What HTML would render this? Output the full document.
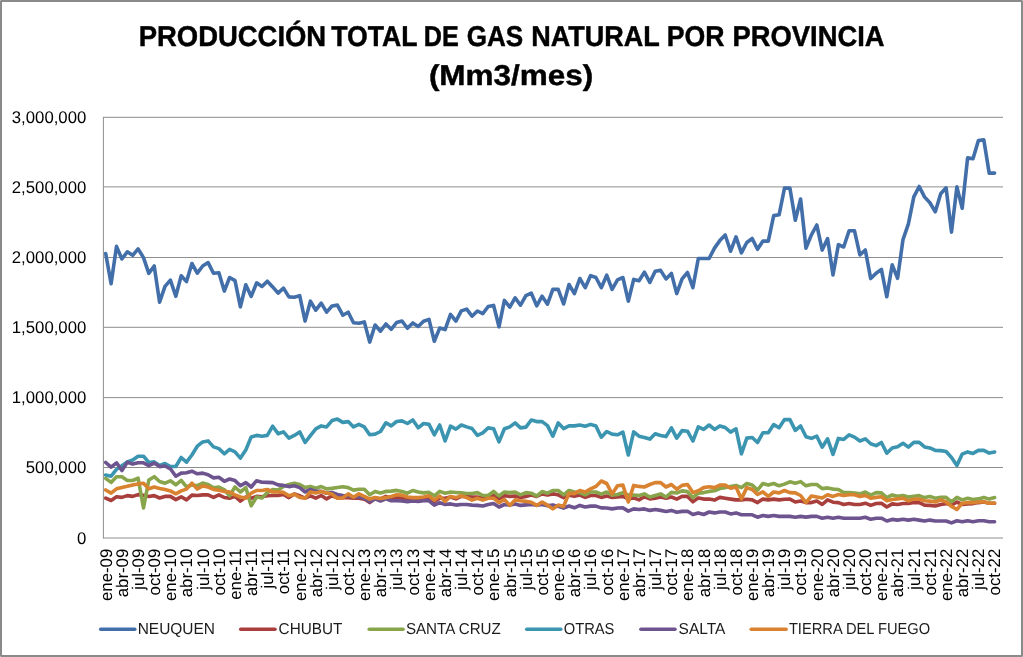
<!DOCTYPE html>
<html lang="es"><head><meta charset="utf-8"><title>Producción total de gas natural por provincia</title>
<style>html,body{margin:0;padding:0;background:#fff}body{width:1023px;height:657px;overflow:hidden}svg{display:block;will-change:transform}text{font-family:"Liberation Sans", Arial, sans-serif;fill:#000;text-rendering:geometricPrecision}.ax{font-size:16.3px;fill:#1c1c1c}.ti{font-size:28.6px;font-weight:bold;stroke:#000;stroke-width:.45px;stroke-linejoin:round}</style></head><body>
<svg width="1023" height="657" viewBox="0 0 1023 657">
<rect x="0" y="0" width="1023" height="657" fill="#fff"/>
<rect x="1" y="1" width="1021" height="655" fill="none" stroke="#8a8a8a" stroke-width="2"/>
<g fill="#b9b9b9"><rect x="0" y="0" width="1" height="1"/><rect x="1022" y="0" width="1" height="1"/><rect x="0" y="656" width="1" height="1"/><rect x="1022" y="656" width="1" height="1"/></g>
<g class="ti">
<text y="45.5"><tspan x="138.7" textLength="187.5" lengthAdjust="spacingAndGlyphs">PRODUCCIÓN</tspan> <tspan x="331.3" textLength="85.8" lengthAdjust="spacingAndGlyphs">TOTAL</tspan> <tspan x="423.7" textLength="35.0" lengthAdjust="spacingAndGlyphs">DE</tspan> <tspan x="466.7" textLength="56.5" lengthAdjust="spacingAndGlyphs">GAS</tspan> <tspan x="531.2" textLength="128.2" lengthAdjust="spacingAndGlyphs">NATURAL</tspan> <tspan x="666.7" textLength="57.8" lengthAdjust="spacingAndGlyphs">POR</tspan> <tspan x="732.5" textLength="152.0" lengthAdjust="spacingAndGlyphs">PROVINCIA</tspan></text>
<text x="428.9" y="84.5" textLength="164.4" lengthAdjust="spacingAndGlyphs">(Mm3/mes)</text>
</g>
<g stroke="#8e8e8e" stroke-width="1" fill="none">
<line x1="103.4" y1="117.30" x2="1003.0" y2="117.30"/>
<line x1="103.4" y1="186.90" x2="1003.0" y2="186.90"/>
<line x1="103.4" y1="257.50" x2="1003.0" y2="257.50"/>
<line x1="103.4" y1="327.30" x2="1003.0" y2="327.30"/>
<line x1="103.4" y1="397.60" x2="1003.0" y2="397.60"/>
<line x1="103.4" y1="467.50" x2="1003.0" y2="467.50"/>
<line x1="103.4" y1="538.00" x2="1003.0" y2="538.00"/>
<line x1="103.4" y1="116.80" x2="103.4" y2="538.50"/>
</g>
<g class="ax" text-anchor="end">
<text transform="translate(86.3,123.0) scale(0.985,1)" font-size="17">3,000,000</text>
<text transform="translate(86.3,192.7) scale(0.985,1)" font-size="17">2,500,000</text>
<text transform="translate(86.3,263.0) scale(0.985,1)" font-size="17">2,000,000</text>
<text transform="translate(86.3,333.0) scale(0.985,1)" font-size="17">1,500,000</text>
<text transform="translate(86.3,403.4) scale(0.985,1)" font-size="17">1,000,000</text>
<text transform="translate(86.3,473.3) scale(0.985,1)" font-size="17">500,000</text>
<text transform="translate(86.3,543.8) scale(0.985,1)" font-size="17">0</text>
</g>
<g class="ax" text-anchor="end">
<text transform="translate(111.5,548.7) rotate(-90) scale(0.995,1)" font-size="16.9">ene-09</text>
<text transform="translate(127.7,548.7) rotate(-90) scale(0.995,1)" font-size="16.9">abr-09</text>
<text transform="translate(143.9,548.7) rotate(-90) scale(0.995,1)" font-size="16.9">jul-09</text>
<text transform="translate(160.0,548.7) rotate(-90) scale(0.995,1)" font-size="16.9">oct-09</text>
<text transform="translate(176.2,548.7) rotate(-90) scale(0.995,1)" font-size="16.9">ene-10</text>
<text transform="translate(192.3,548.7) rotate(-90) scale(0.995,1)" font-size="16.9">abr-10</text>
<text transform="translate(208.5,548.7) rotate(-90) scale(0.995,1)" font-size="16.9">jul-10</text>
<text transform="translate(224.7,548.7) rotate(-90) scale(0.995,1)" font-size="16.9">oct-10</text>
<text transform="translate(240.8,548.7) rotate(-90) scale(0.995,1)" font-size="16.9">ene-11</text>
<text transform="translate(257.0,548.7) rotate(-90) scale(0.995,1)" font-size="16.9">abr-11</text>
<text transform="translate(273.1,548.7) rotate(-90) scale(0.995,1)" font-size="16.9">jul-11</text>
<text transform="translate(289.3,548.7) rotate(-90) scale(0.995,1)" font-size="16.9">oct-11</text>
<text transform="translate(305.5,548.7) rotate(-90) scale(0.995,1)" font-size="16.9">ene-12</text>
<text transform="translate(321.6,548.7) rotate(-90) scale(0.995,1)" font-size="16.9">abr-12</text>
<text transform="translate(337.8,548.7) rotate(-90) scale(0.995,1)" font-size="16.9">jul-12</text>
<text transform="translate(354.0,548.7) rotate(-90) scale(0.995,1)" font-size="16.9">oct-12</text>
<text transform="translate(370.1,548.7) rotate(-90) scale(0.995,1)" font-size="16.9">ene-13</text>
<text transform="translate(386.3,548.7) rotate(-90) scale(0.995,1)" font-size="16.9">abr-13</text>
<text transform="translate(402.4,548.7) rotate(-90) scale(0.995,1)" font-size="16.9">jul-13</text>
<text transform="translate(418.6,548.7) rotate(-90) scale(0.995,1)" font-size="16.9">oct-13</text>
<text transform="translate(434.8,548.7) rotate(-90) scale(0.995,1)" font-size="16.9">ene-14</text>
<text transform="translate(450.9,548.7) rotate(-90) scale(0.995,1)" font-size="16.9">abr-14</text>
<text transform="translate(467.1,548.7) rotate(-90) scale(0.995,1)" font-size="16.9">jul-14</text>
<text transform="translate(483.2,548.7) rotate(-90) scale(0.995,1)" font-size="16.9">oct-14</text>
<text transform="translate(499.4,548.7) rotate(-90) scale(0.995,1)" font-size="16.9">ene-15</text>
<text transform="translate(515.6,548.7) rotate(-90) scale(0.995,1)" font-size="16.9">abr-15</text>
<text transform="translate(531.7,548.7) rotate(-90) scale(0.995,1)" font-size="16.9">jul-15</text>
<text transform="translate(547.9,548.7) rotate(-90) scale(0.995,1)" font-size="16.9">oct-15</text>
<text transform="translate(564.0,548.7) rotate(-90) scale(0.995,1)" font-size="16.9">ene-16</text>
<text transform="translate(580.2,548.7) rotate(-90) scale(0.995,1)" font-size="16.9">abr-16</text>
<text transform="translate(596.4,548.7) rotate(-90) scale(0.995,1)" font-size="16.9">jul-16</text>
<text transform="translate(612.5,548.7) rotate(-90) scale(0.995,1)" font-size="16.9">oct-16</text>
<text transform="translate(628.7,548.7) rotate(-90) scale(0.995,1)" font-size="16.9">ene-17</text>
<text transform="translate(644.8,548.7) rotate(-90) scale(0.995,1)" font-size="16.9">abr-17</text>
<text transform="translate(661.0,548.7) rotate(-90) scale(0.995,1)" font-size="16.9">jul-17</text>
<text transform="translate(677.2,548.7) rotate(-90) scale(0.995,1)" font-size="16.9">oct-17</text>
<text transform="translate(693.3,548.7) rotate(-90) scale(0.995,1)" font-size="16.9">ene-18</text>
<text transform="translate(709.5,548.7) rotate(-90) scale(0.995,1)" font-size="16.9">abr-18</text>
<text transform="translate(725.6,548.7) rotate(-90) scale(0.995,1)" font-size="16.9">jul-18</text>
<text transform="translate(741.8,548.7) rotate(-90) scale(0.995,1)" font-size="16.9">oct-18</text>
<text transform="translate(758.0,548.7) rotate(-90) scale(0.995,1)" font-size="16.9">ene-19</text>
<text transform="translate(774.1,548.7) rotate(-90) scale(0.995,1)" font-size="16.9">abr-19</text>
<text transform="translate(790.3,548.7) rotate(-90) scale(0.995,1)" font-size="16.9">jul-19</text>
<text transform="translate(806.4,548.7) rotate(-90) scale(0.995,1)" font-size="16.9">oct-19</text>
<text transform="translate(822.6,548.7) rotate(-90) scale(0.995,1)" font-size="16.9">ene-20</text>
<text transform="translate(838.8,548.7) rotate(-90) scale(0.995,1)" font-size="16.9">abr-20</text>
<text transform="translate(854.9,548.7) rotate(-90) scale(0.995,1)" font-size="16.9">jul-20</text>
<text transform="translate(871.1,548.7) rotate(-90) scale(0.995,1)" font-size="16.9">oct-20</text>
<text transform="translate(887.2,548.7) rotate(-90) scale(0.995,1)" font-size="16.9">ene-21</text>
<text transform="translate(903.4,548.7) rotate(-90) scale(0.995,1)" font-size="16.9">abr-21</text>
<text transform="translate(919.6,548.7) rotate(-90) scale(0.995,1)" font-size="16.9">jul-21</text>
<text transform="translate(935.7,548.7) rotate(-90) scale(0.995,1)" font-size="16.9">oct-21</text>
<text transform="translate(951.9,548.7) rotate(-90) scale(0.995,1)" font-size="16.9">ene-22</text>
<text transform="translate(968.0,548.7) rotate(-90) scale(0.995,1)" font-size="16.9">abr-22</text>
<text transform="translate(984.2,548.7) rotate(-90) scale(0.995,1)" font-size="16.9">jul-22</text>
<text transform="translate(1000.4,548.7) rotate(-90) scale(0.995,1)" font-size="16.9">oct-22</text>
</g>
<polyline points="105.7,253.5 111.1,283.8 116.5,246.4 121.9,259.0 127.3,251.8 132.7,255.3 138.1,248.9 143.5,257.6 148.8,273.4 154.2,266.0 159.6,302.2 165.0,286.4 170.4,280.1 175.8,296.3 181.2,275.8 186.5,281.6 191.9,263.5 197.3,273.1 202.7,266.0 208.1,262.6 213.5,273.2 218.9,272.7 224.3,291.1 229.6,277.5 235.0,280.6 240.4,306.8 245.8,284.8 251.2,296.4 256.6,282.8 262.0,286.5 267.3,281.2 272.7,286.9 278.1,293.1 283.5,288.1 288.9,296.9 294.3,297.3 299.7,295.6 305.1,321.1 310.4,301.2 315.8,310.2 321.2,303.1 326.6,312.1 332.0,306.0 337.4,305.1 342.8,315.2 348.2,312.2 353.5,322.8 358.9,323.3 364.3,321.9 369.7,342.1 375.1,325.0 380.5,331.2 385.9,324.0 391.2,329.3 396.6,322.5 402.0,321.0 407.4,328.3 412.8,322.9 418.2,326.5 423.6,321.2 429.0,319.4 434.3,341.2 439.7,328.1 445.1,329.6 450.5,314.4 455.9,321.2 461.3,310.9 466.7,309.1 472.0,316.2 477.4,311.0 482.8,313.6 488.2,306.5 493.6,305.4 499.0,326.8 504.4,300.4 509.8,307.1 515.1,297.8 520.5,305.2 525.9,295.6 531.3,293.1 536.7,305.8 542.1,296.2 547.5,304.2 552.8,289.4 558.2,289.4 563.6,304.0 569.0,284.5 574.4,293.7 579.8,278.5 585.2,287.7 590.6,275.6 595.9,277.5 601.3,287.7 606.7,275.2 612.1,289.3 617.5,279.8 622.9,277.5 628.3,301.2 633.7,279.4 639.0,280.8 644.4,272.2 649.8,282.4 655.2,271.2 660.6,270.4 666.0,278.9 671.4,273.4 676.7,293.6 682.1,278.8 687.5,272.5 692.9,287.7 698.3,258.5 703.7,258.5 709.1,258.5 714.5,248.1 719.8,240.6 725.2,235.0 730.6,251.2 736.0,236.9 741.4,252.9 746.8,242.5 752.2,238.5 757.5,249.3 762.9,241.1 768.3,241.1 773.7,215.6 779.1,214.8 784.5,188.1 789.9,188.1 795.3,220.2 800.6,199.0 806.0,248.2 811.4,234.8 816.8,225.0 822.2,250.1 827.6,238.6 833.0,274.9 838.4,244.6 843.7,247.0 849.1,230.8 854.5,230.8 859.9,254.9 865.3,250.0 870.7,278.6 876.1,273.2 881.4,269.4 886.8,296.8 892.2,264.8 897.6,278.3 903.0,239.6 908.4,223.8 913.8,196.9 919.2,186.5 924.5,196.9 929.9,202.8 935.3,211.8 940.7,193.8 946.1,187.8 951.5,232.1 956.9,186.9 962.2,208.3 967.6,157.9 973.0,158.7 978.4,140.6 983.8,139.8 989.2,173.1 994.6,173.1" fill="none" stroke="#426fa9" stroke-width="3.6" stroke-linejoin="round" stroke-linecap="round"/>
<polyline points="105.7,498.2 111.1,500.5 116.5,496.8 121.9,497.4 127.3,495.6 132.7,496.4 138.1,494.6 143.5,495.3 148.8,496.5 154.2,495.6 159.6,498.0 165.0,496.4 170.4,496.4 175.8,499.6 181.2,496.8 186.5,499.9 191.9,495.1 197.3,495.5 202.7,494.9 208.1,494.9 213.5,497.4 218.9,494.8 224.3,497.5 229.6,498.2 235.0,496.4 240.4,501.1 245.8,497.0 251.2,498.2 256.6,496.4 262.0,496.8 267.3,495.8 272.7,495.5 278.1,495.5 283.5,494.5 288.9,497.6 294.3,493.9 299.7,495.8 305.1,498.2 310.4,495.8 315.8,498.2 321.2,495.5 326.6,498.9 332.0,495.8 337.4,497.9 342.8,497.6 348.2,497.6 353.5,498.2 358.9,498.2 364.3,499.1 369.7,502.6 375.1,498.2 380.5,498.9 385.9,496.4 391.2,498.2 396.6,497.6 402.0,498.2 407.4,498.5 412.8,498.2 418.2,498.5 423.6,498.2 429.0,497.6 434.3,501.4 439.7,498.2 445.1,498.2 450.5,497.0 455.9,498.9 461.3,496.4 466.7,496.4 472.0,497.0 477.4,497.0 482.8,498.2 488.2,497.6 493.6,495.5 499.0,498.9 504.4,495.8 509.8,496.4 515.1,496.1 520.5,497.6 525.9,496.4 531.3,495.1 536.7,496.4 542.1,493.9 547.5,495.1 552.8,493.9 558.2,494.8 563.6,497.6 569.0,495.3 574.4,496.2 579.8,495.1 585.2,497.4 590.6,495.5 595.9,495.5 601.3,497.4 606.7,496.1 612.1,497.4 617.5,497.0 622.9,496.4 628.3,498.9 633.7,497.9 639.0,499.9 644.4,496.8 649.8,498.9 655.2,498.2 660.6,497.0 666.0,498.2 671.4,497.0 676.7,499.1 682.1,496.4 687.5,496.4 692.9,501.8 698.3,497.9 703.7,499.1 709.1,499.1 714.5,500.1 719.8,497.4 725.2,498.2 730.6,499.1 736.0,499.9 741.4,499.9 746.8,499.2 752.2,499.9 757.5,502.6 762.9,499.1 768.3,499.9 773.7,499.1 779.1,499.9 784.5,499.2 789.9,499.1 795.3,502.0 800.6,501.1 806.0,502.6 811.4,502.6 816.8,501.1 822.2,504.5 827.6,499.9 833.0,502.2 838.4,502.6 843.7,504.5 849.1,503.5 854.5,504.5 859.9,504.5 865.3,503.2 870.7,505.4 876.1,503.5 881.4,503.2 886.8,507.0 892.2,503.9 897.6,504.5 903.0,503.5 908.4,503.4 913.8,502.5 919.2,502.6 924.5,505.1 929.9,505.4 935.3,506.0 940.7,504.5 946.1,503.6 951.5,505.1 956.9,502.0 962.2,504.5 967.6,503.9 973.0,503.6 978.4,502.6 983.8,502.0 989.2,503.2 994.6,503.2" fill="none" stroke="#a83f3d" stroke-width="3.6" stroke-linejoin="round" stroke-linecap="round"/>
<polyline points="105.7,478.4 111.1,482.4 116.5,476.7 121.9,476.7 127.3,480.4 132.7,480.5 138.1,478.2 143.5,508.0 148.8,480.0 154.2,476.7 159.6,481.5 165.0,483.2 170.4,480.8 175.8,484.8 181.2,480.3 186.5,486.8 191.9,485.0 197.3,485.7 202.7,483.0 208.1,484.4 213.5,487.8 218.9,487.0 224.3,489.8 229.6,495.8 235.0,487.0 240.4,492.0 245.8,487.6 251.2,505.8 256.6,497.0 262.0,498.0 267.3,492.6 272.7,489.5 278.1,490.1 283.5,486.4 288.9,484.5 294.3,483.2 299.7,484.5 305.1,487.6 310.4,486.4 315.8,488.2 321.2,486.6 326.6,488.9 332.0,488.4 337.4,487.5 342.8,486.8 348.2,487.6 353.5,490.1 358.9,489.2 364.3,489.2 369.7,494.8 375.1,491.4 380.5,492.9 385.9,491.4 391.2,491.1 396.6,490.4 402.0,491.4 407.4,493.2 412.8,490.5 418.2,492.0 423.6,492.9 429.0,492.4 434.3,495.8 439.7,491.4 445.1,493.2 450.5,492.0 455.9,492.5 461.3,492.9 466.7,493.5 472.0,493.5 477.4,492.6 482.8,495.5 488.2,495.5 493.6,491.4 499.0,496.0 504.4,492.0 509.8,492.6 515.1,492.0 520.5,494.8 525.9,492.6 531.3,493.2 536.7,496.0 542.1,491.6 547.5,493.2 552.8,490.5 558.2,490.5 563.6,494.8 569.0,490.5 574.4,492.0 579.8,492.6 585.2,494.8 590.6,492.0 595.9,492.0 601.3,494.2 606.7,492.0 612.1,495.1 617.5,494.5 622.9,492.6 628.3,495.1 633.7,495.1 639.0,495.5 644.4,493.9 649.8,497.0 655.2,495.5 660.6,493.9 666.0,497.0 671.4,492.4 676.7,493.0 682.1,490.9 687.5,491.6 692.9,497.6 698.3,493.2 703.7,492.6 709.1,491.4 714.5,490.8 719.8,488.5 725.2,487.6 730.6,486.4 736.0,485.4 741.4,487.6 746.8,483.5 752.2,485.1 757.5,490.1 762.9,483.5 768.3,485.1 773.7,483.5 779.1,485.8 784.5,484.1 789.9,481.8 795.3,483.2 800.6,481.6 806.0,485.8 811.4,484.5 816.8,484.5 822.2,488.6 827.6,487.9 833.0,489.1 838.4,489.5 843.7,492.6 849.1,492.6 854.5,493.0 859.9,493.9 865.3,492.0 870.7,495.1 876.1,492.6 881.4,492.9 886.8,497.6 892.2,494.9 897.6,496.2 903.0,495.5 908.4,497.1 913.8,496.2 919.2,495.6 924.5,497.6 929.9,496.4 935.3,498.2 940.7,497.4 946.1,497.4 951.5,501.8 956.9,497.4 962.2,499.9 967.6,498.2 973.0,499.5 978.4,498.9 983.8,497.4 989.2,499.1 994.6,497.6" fill="none" stroke="#88a54b" stroke-width="3.6" stroke-linejoin="round" stroke-linecap="round"/>
<polyline points="105.7,475.0 111.1,476.2 116.5,469.4 121.9,465.6 127.3,461.9 132.7,460.0 138.1,456.2 143.5,456.2 148.8,462.5 154.2,461.9 159.6,465.4 165.0,463.5 170.4,466.5 175.8,466.5 181.2,457.5 186.5,462.2 191.9,455.0 197.3,446.2 202.7,441.9 208.1,440.9 213.5,446.9 218.9,448.6 224.3,453.8 229.6,449.4 235.0,451.9 240.4,458.1 245.8,450.0 251.2,436.9 256.6,435.4 262.0,436.2 267.3,435.4 272.7,426.2 278.1,433.8 283.5,431.9 288.9,438.1 294.3,435.4 299.7,431.9 305.1,442.5 310.4,435.6 315.8,428.8 321.2,425.9 326.6,426.9 332.0,420.6 337.4,419.1 342.8,422.4 348.2,421.6 353.5,426.9 358.9,424.4 364.3,426.9 369.7,434.8 375.1,434.1 380.5,431.5 385.9,422.8 391.2,425.9 396.6,421.5 402.0,420.9 407.4,423.5 412.8,420.0 418.2,427.8 423.6,423.5 429.0,424.4 434.3,434.8 439.7,425.0 445.1,441.0 450.5,426.1 455.9,429.1 461.3,425.0 466.7,426.9 472.0,428.5 477.4,435.4 482.8,432.9 488.2,427.9 493.6,428.8 499.0,441.9 504.4,428.8 509.8,426.9 515.1,422.9 520.5,427.9 525.9,427.1 531.3,420.0 536.7,421.6 542.1,421.6 547.5,425.6 552.8,436.2 558.2,422.9 563.6,428.6 569.0,425.9 574.4,425.9 579.8,425.0 585.2,426.2 590.6,424.4 595.9,426.0 601.3,437.2 606.7,431.5 612.1,434.1 617.5,434.8 622.9,432.1 628.3,455.0 633.7,431.9 639.0,436.2 644.4,437.5 649.8,439.1 655.2,433.8 660.6,435.4 666.0,436.6 671.4,427.9 676.7,438.1 682.1,430.6 687.5,431.2 692.9,441.0 698.3,426.9 703.7,429.4 709.1,425.0 714.5,429.4 719.8,425.9 725.2,427.5 730.6,432.1 736.0,428.8 741.4,453.8 746.8,438.1 752.2,437.5 757.5,442.5 762.9,432.8 768.3,432.8 773.7,424.6 779.1,427.8 784.5,419.6 789.9,419.6 795.3,430.4 800.6,426.0 806.0,436.7 811.4,438.4 816.8,436.2 822.2,447.2 827.6,438.8 833.0,454.4 838.4,438.4 843.7,439.4 849.1,434.8 854.5,437.1 859.9,441.0 865.3,438.8 870.7,443.8 876.1,445.6 881.4,442.5 886.8,453.1 892.2,448.0 897.6,446.8 903.0,443.3 908.4,447.1 913.8,442.4 919.2,442.4 924.5,446.9 929.9,447.9 935.3,450.4 940.7,450.6 946.1,451.5 951.5,457.5 956.9,465.4 962.2,454.1 967.6,451.9 973.0,453.4 978.4,450.4 983.8,450.4 989.2,453.1 994.6,452.1" fill="none" stroke="#3b95b0" stroke-width="3.6" stroke-linejoin="round" stroke-linecap="round"/>
<polyline points="105.7,462.5 111.1,467.2 116.5,462.8 121.9,470.6 127.3,462.2 132.7,464.1 138.1,462.8 143.5,462.8 148.8,465.6 154.2,463.1 159.6,466.6 165.0,466.0 170.4,468.8 175.8,476.2 181.2,473.1 186.5,472.8 191.9,471.2 197.3,473.8 202.7,473.1 208.1,474.8 213.5,477.9 218.9,477.3 224.3,481.3 229.6,479.0 235.0,480.6 240.4,485.7 245.8,482.6 251.2,487.0 256.6,480.7 262.0,482.2 267.3,482.4 272.7,482.6 278.1,484.9 283.5,485.4 288.9,486.6 294.3,485.8 299.7,487.6 305.1,492.0 310.4,489.5 315.8,491.4 321.2,491.4 326.6,493.2 332.0,492.5 337.4,494.4 342.8,495.5 348.2,495.8 353.5,497.0 358.9,497.0 364.3,498.2 369.7,501.8 375.1,498.9 380.5,501.0 385.9,498.9 391.2,500.8 396.6,500.8 402.0,501.0 407.4,501.6 412.8,501.0 418.2,501.4 423.6,500.8 429.0,500.8 434.3,505.1 439.7,502.6 445.1,504.5 450.5,503.9 455.9,505.1 461.3,504.5 466.7,504.5 472.0,505.1 477.4,505.4 482.8,506.0 488.2,504.5 493.6,503.5 499.0,507.0 504.4,504.5 509.8,505.1 515.1,503.9 520.5,505.4 525.9,504.9 531.3,504.5 536.7,505.1 542.1,504.5 547.5,505.8 552.8,504.9 558.2,506.4 563.6,508.1 569.0,506.0 574.4,507.8 579.8,505.4 585.2,507.0 590.6,506.1 595.9,506.1 601.3,507.9 606.7,508.0 612.1,508.9 617.5,508.0 622.9,507.9 628.3,511.1 633.7,508.9 639.0,509.5 644.4,508.9 649.8,510.4 655.2,509.5 660.6,510.4 666.0,511.4 671.4,510.4 676.7,512.2 682.1,511.4 687.5,511.2 692.9,514.5 698.3,512.9 703.7,514.5 709.1,512.0 714.5,512.9 719.8,512.0 725.2,512.0 730.6,513.9 736.0,512.9 741.4,514.8 746.8,514.8 752.2,514.8 757.5,517.2 762.9,515.5 768.3,516.4 773.7,515.5 779.1,516.4 784.5,516.4 789.9,516.4 795.3,517.2 800.6,516.4 806.0,517.1 811.4,516.4 816.8,516.4 822.2,518.2 827.6,517.2 833.0,518.2 838.4,517.2 843.7,518.2 849.1,518.2 854.5,518.2 859.9,518.2 865.3,517.2 870.7,519.2 876.1,518.2 881.4,518.2 886.8,521.0 892.2,519.4 897.6,520.1 903.0,519.2 908.4,520.1 913.8,519.2 919.2,520.1 924.5,521.1 929.9,520.1 935.3,521.0 940.7,521.0 946.1,521.0 951.5,522.9 956.9,520.8 962.2,521.8 967.6,520.8 973.0,521.8 978.4,520.8 983.8,520.8 989.2,521.8 994.6,521.8" fill="none" stroke="#6e548f" stroke-width="3.6" stroke-linejoin="round" stroke-linecap="round"/>
<polyline points="105.7,490.0 111.1,493.1 116.5,488.8 121.9,487.5 127.3,486.3 132.7,484.9 138.1,483.9 143.5,483.3 148.8,488.8 154.2,487.0 159.6,488.5 165.0,489.6 170.4,490.9 175.8,493.8 181.2,490.9 186.5,489.1 191.9,483.1 197.3,489.0 202.7,485.9 208.1,487.1 213.5,489.4 218.9,490.2 224.3,491.4 229.6,492.0 235.0,494.8 240.4,497.0 245.8,498.2 251.2,493.2 256.6,490.5 262.0,490.5 267.3,489.5 272.7,492.0 278.1,492.0 283.5,492.4 288.9,495.8 294.3,494.2 299.7,497.4 305.1,498.2 310.4,492.0 315.8,493.0 321.2,491.6 326.6,492.9 332.0,494.1 337.4,498.2 342.8,497.9 348.2,493.9 353.5,497.2 358.9,493.9 364.3,496.4 369.7,499.1 375.1,497.6 380.5,498.5 385.9,497.6 391.2,496.4 396.6,494.8 402.0,495.1 407.4,497.0 412.8,497.6 418.2,497.6 423.6,497.0 429.0,495.8 434.3,500.1 439.7,496.0 445.1,501.4 450.5,496.4 455.9,497.6 461.3,495.8 466.7,497.6 472.0,500.1 477.4,498.2 482.8,500.1 488.2,498.2 493.6,498.2 499.0,502.6 504.4,499.5 509.8,505.4 515.1,499.9 520.5,500.8 525.9,501.4 531.3,502.2 536.7,505.4 542.1,502.0 547.5,505.1 552.8,508.9 558.2,505.1 563.6,506.4 569.0,493.2 574.4,493.6 579.8,490.5 585.2,492.0 590.6,488.9 595.9,486.4 601.3,481.0 606.7,483.5 612.1,493.9 617.5,485.8 622.9,485.1 628.3,502.0 633.7,485.4 639.0,486.4 644.4,487.0 649.8,484.5 655.2,482.6 660.6,482.6 666.0,487.0 671.4,484.5 676.7,489.2 682.1,485.4 687.5,484.5 692.9,492.6 698.3,490.8 703.7,487.6 709.1,486.8 714.5,487.6 719.8,485.1 725.2,485.1 730.6,488.2 736.0,487.0 741.4,498.9 746.8,487.6 752.2,489.5 757.5,494.5 762.9,491.8 768.3,496.4 773.7,492.0 779.1,492.9 784.5,490.5 789.9,492.6 795.3,492.9 800.6,495.5 806.0,502.6 811.4,496.0 816.8,497.0 822.2,498.0 827.6,494.8 833.0,496.4 838.4,494.5 843.7,495.5 849.1,494.8 854.5,494.8 859.9,496.4 865.3,495.5 870.7,498.2 876.1,497.4 881.4,496.8 886.8,500.8 892.2,499.5 897.6,498.9 903.0,498.2 908.4,500.8 913.8,499.1 919.2,499.1 924.5,500.8 929.9,501.1 935.3,502.0 940.7,499.9 946.1,502.0 951.5,506.4 956.9,509.5 962.2,503.2 967.6,502.6 973.0,502.6 978.4,502.0 983.8,501.8 989.2,503.2 994.6,503.0" fill="none" stroke="#d9822f" stroke-width="3.6" stroke-linejoin="round" stroke-linecap="round"/>
<line x1="100.7" y1="629.2" x2="134.8" y2="629.2" stroke="#426fa9" stroke-width="3.5" stroke-linecap="round"/>
<text class="ax" transform="translate(137.7,634.3) scale(1,0.972)" textLength="77.3" lengthAdjust="spacingAndGlyphs">NEUQUEN</text>
<line x1="240.7" y1="629.2" x2="275.0" y2="629.2" stroke="#a83f3d" stroke-width="3.5" stroke-linecap="round"/>
<text class="ax" transform="translate(278.6,634.3) scale(1,0.972)" textLength="63.7" lengthAdjust="spacingAndGlyphs">CHUBUT</text>
<line x1="369.2" y1="629.2" x2="403.1" y2="629.2" stroke="#88a54b" stroke-width="3.5" stroke-linecap="round"/>
<text class="ax" transform="translate(405.9,634.3) scale(1,0.972)" textLength="94.9" lengthAdjust="spacingAndGlyphs">SANTA CRUZ</text>
<line x1="526.7" y1="629.2" x2="560.8" y2="629.2" stroke="#3b95b0" stroke-width="3.5" stroke-linecap="round"/>
<text class="ax" transform="translate(563.7,634.3) scale(1,0.972)" textLength="50.7" lengthAdjust="spacingAndGlyphs">OTRAS</text>
<line x1="640.9" y1="629.2" x2="675.0" y2="629.2" stroke="#6e548f" stroke-width="3.5" stroke-linecap="round"/>
<text class="ax" transform="translate(678.6,634.3) scale(1,0.972)" textLength="46.7" lengthAdjust="spacingAndGlyphs">SALTA</text>
<line x1="751.2" y1="629.2" x2="786.1" y2="629.2" stroke="#d9822f" stroke-width="3.5" stroke-linecap="round"/>
<text class="ax" transform="translate(788.9,634.3) scale(1,0.972)" textLength="141.3" lengthAdjust="spacingAndGlyphs">TIERRA DEL FUEGO</text>
</svg></body></html>
